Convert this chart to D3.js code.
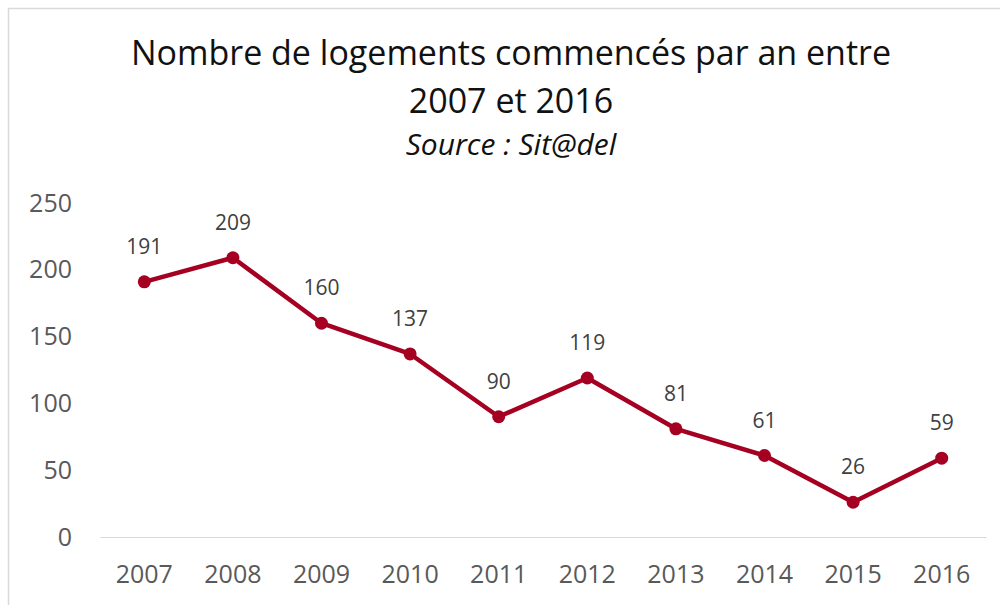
<!DOCTYPE html>
<html>
<head>
<meta charset="utf-8">
<script src="https://cdn.jsdelivr.net/npm/d3@7"></script>
<style>
  html, body { margin: 0; padding: 0; background: #fff; }
  svg { display: block; }
  text { font-family: "Open Sans", Lato, sans-serif; }
</style>
</head>
<body>
<svg id="chart" width="1000" height="605"></svg>
<script>
// Logements commencés par année (Sit@del)
const years = ["2007", "2008", "2009", "2010", "2011", "2012", "2013", "2014", "2015", "2016"];
const housingStarts = [191, 209, 160, 137, 90, 119, 81, 61, 26, 59];
const yTicks = [0, 50, 100, 150, 200, 250];
const titleLines = ["Nombre de logements commencés par an entre", "2007 et 2016"];
const subtitle = "Source : Sit@del";

const svg = d3.select("#chart");
const W = 1000, H = 605;
const plot = { left: 100, right: 986, top: 203, bottom: 537 };
const red = "#A50021";
const font = "'Open Sans', Lato, sans-serif";

// chart area frame
svg.append("rect")
  .attr("x", 8.5).attr("y", 8.5)
  .attr("width", W + 20).attr("height", H + 20)
  .attr("fill", "#fff")
  .attr("stroke", "#d9d9d9").attr("stroke-width", 1.5);

// titles
svg.append("text")
  .attr("x", 511).attr("y", 65)
  .attr("text-anchor", "middle")
  .attr("font-size", 34).attr("fill", "#111")
  .text(titleLines[0]);
svg.append("text")
  .attr("x", 511).attr("y", 113)
  .attr("text-anchor", "middle")
  .attr("font-size", 34).attr("fill", "#111")
  .text(titleLines[1]);
svg.append("text")
  .attr("x", 511).attr("y", 155)
  .attr("text-anchor", "middle")
  .attr("font-size", 30).attr("font-style", "italic").attr("fill", "#111")
  .text(subtitle);

const x = d3.scaleBand().domain(years).range([plot.left, plot.right]);
const y = d3.scaleLinear().domain([0, 250]).range([plot.bottom, plot.top]);

// y axis labels (no axis line)
const yAxis = svg.append("g")
  .attr("transform", `translate(${plot.left}, 0)`)
  .call(d3.axisLeft(y).tickValues(yTicks).tickSize(0).tickPadding(28));
yAxis.select(".domain").remove();
yAxis.selectAll("text")
  .attr("font-family", font)
  .attr("font-size", 25).attr("fill", "#595959");

// x axis with light baseline
const xAxis = svg.append("g")
  .attr("transform", `translate(0, ${plot.bottom})`)
  .call(d3.axisBottom(x).tickSize(0).tickPadding(28));
xAxis.select(".domain").attr("stroke", "#d9d9d9").attr("stroke-width", 1.2);
xAxis.selectAll("text")
  .attr("font-family", font)
  .attr("font-size", 25).attr("fill", "#595959");

const data = years.map((yr, i) => ({ year: yr, value: housingStarts[i] }));
const cx = d => x(d.year) + x.bandwidth() / 2;

const line = d3.line().x(cx).y(d => y(d.value));
svg.append("path")
  .datum(data)
  .attr("d", line)
  .attr("fill", "none")
  .attr("stroke", red)
  .attr("stroke-width", 4.5)
  .attr("stroke-linejoin", "round");

svg.selectAll("circle.pt")
  .data(data).enter().append("circle")
  .attr("class", "pt")
  .attr("cx", cx).attr("cy", d => y(d.value))
  .attr("r", 6.5).attr("fill", red);

svg.selectAll("text.lbl")
  .data(data).enter().append("text")
  .attr("class", "lbl")
  .attr("x", cx).attr("y", d => y(d.value) - 28)
  .attr("text-anchor", "middle")
  .attr("font-size", 21).attr("fill", "#404040")
  .text(d => d.value);
</script>
</body>
</html>
